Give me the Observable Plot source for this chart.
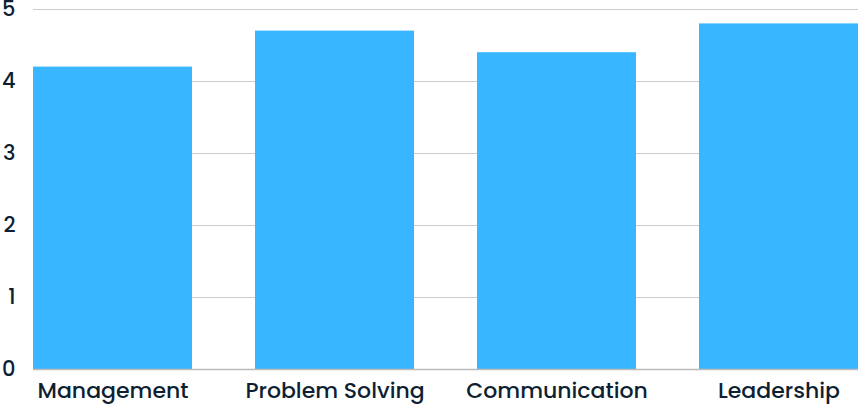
<!DOCTYPE html>
<html>
<head>
<meta charset="utf-8">
<script src="https://cdn.jsdelivr.net/npm/d3@7"></script>
<script src="https://cdn.jsdelivr.net/npm/@observablehq/plot@0.6"></script>
<style>
  html, body { margin: 0; padding: 0; background: #fff; }
  #chart svg { display: block; }
</style>
</head>
<body>
<div id="chart"></div>
<script>
const categories = ["Management", "Problem Solving", "Communication", "Leadership"];
const values = [4.2, 4.7, 4.4, 4.8];
const yTicks = [0, 1, 2, 3, 4, 5];

const data = categories.map((c, i) => ({category: c, value: values[i]}));

const chart = Plot.plot({
  width: 860,
  height: 407,
  marginTop: 9,
  marginBottom: 38,
  marginLeft: 33,
  marginRight: 2,
  style: {fontFamily: "Poppins, 'Open Sans', sans-serif", color: "#0f1f33", background: "#fff"},
  x: {domain: categories, paddingInner: 0.284, paddingOuter: 0, label: null},
  y: {domain: [0, 5], label: null},
  marks: [
    Plot.gridY(yTicks, {stroke: "#cccccc", strokeOpacity: 1}),
    Plot.barY(data, {x: "category", y: "value", fill: "#38b6ff"}),
    Plot.ruleY([0], {stroke: "#bbbbbb", strokeWidth: 1.5}),
    Plot.axisY(yTicks, {tickSize: 0, tickPadding: 18, fontSize: 21, fontWeight: 500, tickFormat: "d", label: null, fill: "#0f1f33"}),
    Plot.axisX({tickSize: 0, tickPadding: 13, fontSize: 22, fontWeight: 500, label: null, fill: "#0f1f33"})
  ]
});
document.getElementById("chart").appendChild(chart);
</script>
</body>
</html>
